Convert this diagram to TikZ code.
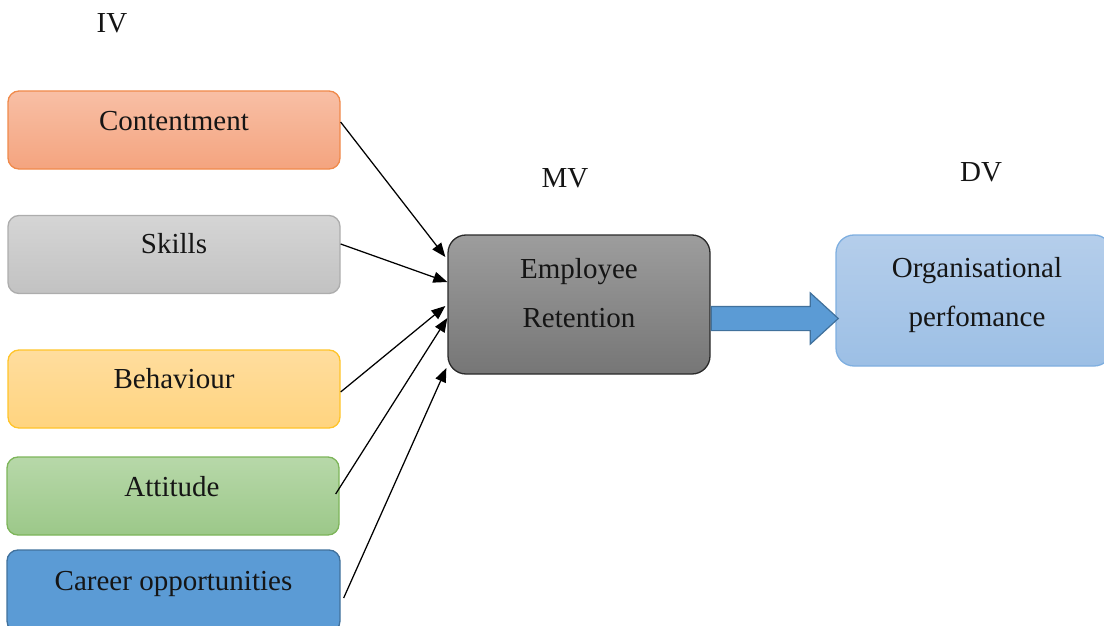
\documentclass[tikz,border=0pt]{standalone}
\usepackage{fontspec}
\setmainfont{Liberation Serif}
\usetikzlibrary{arrows.meta,shapes.arrows}

\definecolor{txt}{HTML}{151515}
\definecolor{orTop}{HTML}{F8BFA5}
\definecolor{orBot}{HTML}{F4A47F}
\definecolor{orLine}{HTML}{F08A4B}
\definecolor{grTop}{HTML}{D5D5D5}
\definecolor{grBot}{HTML}{C2C2C2}
\definecolor{grLine}{HTML}{ADADAD}
\definecolor{yeTop}{HTML}{FFDD9E}
\definecolor{yeBot}{HTML}{FFD47F}
\definecolor{yeLine}{HTML}{FFC42A}
\definecolor{gnTop}{HTML}{B7D8A9}
\definecolor{gnBot}{HTML}{9CC889}
\definecolor{gnLine}{HTML}{7DB55A}
\definecolor{blFill}{HTML}{5B9BD5}
\definecolor{blLine}{HTML}{41719C}
\definecolor{dkTop}{HTML}{9D9D9D}
\definecolor{dkBot}{HTML}{767676}
\definecolor{dkLine}{HTML}{2A2A2A}
\definecolor{ltTop}{HTML}{B5CEEB}
\definecolor{ltBot}{HTML}{9CBFE5}
\definecolor{ltLine}{HTML}{7FAFE0}

\begin{document}
\begin{tikzpicture}[x=1pt,y=-1pt,
  box/.style={rectangle, rounded corners=11pt, line width=1.3pt,
    minimum width=332pt, minimum height=78pt, inner sep=0pt},
  bigbox/.style={rectangle, rounded corners=18pt, line width=1.3pt, inner sep=0pt},
  word/.style={anchor=base, inner sep=0pt, text=txt,
    font=\fontsize{29}{35}\selectfont},
  link/.style={-{Triangle[length=14pt,width=11pt]}, line width=1.25pt, draw=black},
  flow/.style={single arrow, draw=blLine, fill=blFill, line width=1.2pt,
    minimum height=127pt, inner xsep=0pt, inner ysep=11.5pt,
    single arrow head extend=13.5pt, single arrow tip angle=85},
]
\useasboundingbox (0,0) rectangle (1104,626);
\clip (0,0) rectangle (1104,626);

% independent variables
\node[box, top color=orTop, bottom color=orBot, draw=orLine] (con) at (174,130) {};
\node[box, top color=grTop, bottom color=grBot, draw=grLine] (ski) at (174,254.5) {};
\node[box, top color=yeTop, bottom color=yeBot, draw=yeLine] (beh) at (174,389) {};
\node[box, top color=gnTop, bottom color=gnBot, draw=gnLine] (att) at (173,496) {};
\node[box, fill=blFill, draw=blLine, minimum width=333pt, minimum height=82pt] (car) at (173.5,591) {};

\node[word] (tcon) at (174,131) {Contentment};
\node[word] (tski) at (174,253) {Skills};
\node[word] (tbeh) at (174,388) {Behaviour};
\node[word] (tatt) at (172,496) {Attitude};
\node[word] (tcar) at (173.5,590) {Career opportunities};

% mediating and dependent variables
\node[bigbox, top color=dkTop, bottom color=dkBot, draw=dkLine,
  minimum width=262pt, minimum height=139pt] (em) at (579,304.5) {};
\node[bigbox, top color=ltTop, bottom color=ltBot, draw=ltLine,
  minimum width=276pt, minimum height=131pt] (org) at (974,300.5) {};

\node[word] (tem1) at (579,278) {Employee};
\node[word] (tem2) at (579,327) {Retention};
\node[word] (tor1) at (977,277) {Organisational};
\node[word] (tor2) at (977,326) {perfomance};

% group labels
\node[word] (iv) at (112,33) {IV};
\node[word] (mv) at (565,187) {MV};
\node[word] (dv) at (981,181) {DV};

% connectors
\draw[link] ([yshift=8pt]con.east) -- ([xshift=-2pt,yshift=47.5pt]em.west);
\draw[link] ([yshift=10.5pt]ski.east) -- ([yshift=22.5pt]em.west);
\draw[link] ([yshift=-3pt]beh.east) -- ([xshift=-2pt,yshift=-1.5pt]em.west);
\draw[link] ([xshift=-4pt,yshift=2pt]att.east) -- ([yshift=-13.5pt]em.west);
\draw[link] ([xshift=3pt,yshift=-7pt]car.east) -- ([xshift=-1pt,yshift=-63.5pt]em.west);

\node[flow, anchor=tail] (push) at ([yshift=-14pt]em.east) {};
\end{tikzpicture}
\end{document}
